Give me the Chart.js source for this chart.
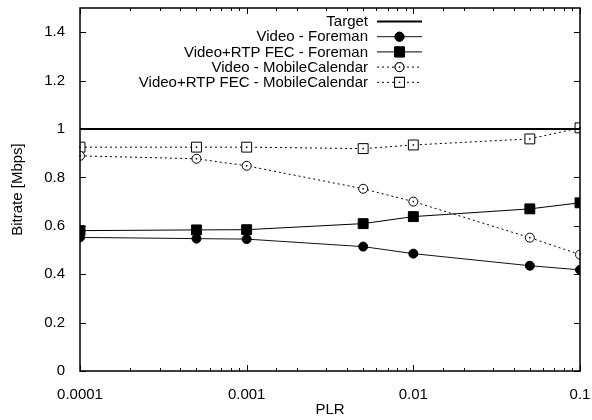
<!DOCTYPE html>
<html>
<head>
<meta charset="utf-8">
<script src="https://cdn.jsdelivr.net/npm/chart.js@4/dist/chart.umd.min.js"></script>
<style>
  html, body { margin: 0; padding: 0; background: #fff; }
  #wrap { width: 592px; height: 420px; }
</style>
</head>
<body>
<div id="wrap"><canvas id="chart" width="592" height="420"></canvas></div>
<script>
// values
const plr = [0.0001, 0.0005, 0.001, 0.005, 0.01, 0.05, 0.1];
const targetX = [0.0001, 0.1];
const targetY = [1, 1];
const videoForeman = [0.552, 0.547, 0.545, 0.514, 0.485, 0.435, 0.418];
const fecForeman = [0.580, 0.583, 0.584, 0.609, 0.638, 0.670, 0.695];
const videoMobile = [0.889, 0.877, 0.848, 0.753, 0.700, 0.551, 0.481];
const fecMobile = [0.925, 0.925, 0.925, 0.919, 0.934, 0.959, 1.005];
const yTicks = [0, 0.2, 0.4, 0.6, 0.8, 1, 1.2, 1.4];
const xLabels = [0.0001, 0.001, 0.01, 0.1];

const FONT = 'Liberation Sans, Arial, Helvetica, sans-serif';
const FSIZE = 15;

function pts(xs, ys) {
  return xs.map((x, i) => ({ x: x, y: ys[i] }));
}

const datasets = [
  { label: 'Target', data: pts(targetX, targetY), borderColor: '#000', borderWidth: 2,
    pointRadius: 0 },
  { label: 'Video - Foreman', data: pts(plr, videoForeman), borderColor: '#111', borderWidth: 1,
    pointStyle: 'circle', pointRadius: 4.5, pointBackgroundColor: '#000', pointBorderColor: '#000' },
  { label: 'Video+RTP FEC - Foreman', data: pts(plr, fecForeman), borderColor: '#000', borderWidth: 1,
    pointStyle: 'rect', pointRadius: 7, pointBackgroundColor: '#000', pointBorderColor: '#000' },
  { label: 'Video - MobileCalendar', data: pts(plr, videoMobile), borderColor: '#000', borderWidth: 1,
    borderDash: [2, 3], pointStyle: 'circle', pointRadius: 4.5, pointBackgroundColor: '#fff',
    pointBorderColor: '#000', pointBorderWidth: 1, openDot: true },
  { label: 'Video+RTP FEC - MobileCalendar', data: pts(plr, fecMobile), borderColor: '#000', borderWidth: 1,
    borderDash: [2, 3], pointStyle: 'rect', pointRadius: 7, pointBackgroundColor: '#fff',
    pointBorderColor: '#000', pointBorderWidth: 1, openDot: true }
];

// gnuplot-like frame, inward ticks, dots in the open markers and the legend
const gnuplotLook = {
  id: 'gnuplotLook',
  beforeDatasetsDraw(chart) {
    const ctx = chart.ctx;
    const a = chart.chartArea;
    const xs = chart.scales.x, ys = chart.scales.y;
    ctx.save();
    ctx.strokeStyle = '#000';
    ctx.lineWidth = 1;
    ctx.beginPath();
    xs.ticks.forEach(t => {
      const px = Math.round(xs.getPixelForValue(t.value)) + 0.5;
      const major = xLabels.indexOf(t.value) >= 0;
      const len = major ? 6 : 3;
      ctx.moveTo(px, a.bottom); ctx.lineTo(px, a.bottom - len);
      ctx.moveTo(px, a.top); ctx.lineTo(px, a.top + len);
    });
    ys.ticks.forEach(t => {
      const py = Math.round(ys.getPixelForValue(t.value)) + 0.5;
      ctx.moveTo(a.left, py); ctx.lineTo(a.left + 6, py);
      ctx.moveTo(a.right, py); ctx.lineTo(a.right - 6, py);
    });
    ctx.stroke();
    ctx.restore();
  },
  afterDatasetsDraw(chart) {
    const ctx = chart.ctx;
    const a = chart.chartArea;
    ctx.save();
    // frame
    ctx.strokeStyle = '#000';
    ctx.lineWidth = 1.5;
    ctx.strokeRect(a.left, a.top, a.right - a.left, a.bottom - a.top);
    // center dots for open markers
    chart.data.datasets.forEach((ds, i) => {
      if (!ds.openDot) return;
      chart.getDatasetMeta(i).data.forEach(el => {
        ctx.fillStyle = '#000';
        ctx.fillRect(el.x - 0.75, el.y - 0.75, 1.5, 1.5);
      });
    });
    // legend
    const textRight = 368, lineL = 377, lineR = 422;
    let y = a.top + 13;
    ctx.font = FSIZE + 'px ' + FONT;
    ctx.textAlign = 'right';
    ctx.textBaseline = 'middle';
    chart.data.datasets.forEach(ds => {
      ctx.fillStyle = '#000';
      ctx.fillText(ds.label, textRight, y + 1);
      ctx.strokeStyle = ds.borderColor;
      ctx.lineWidth = ds.borderWidth;
      ctx.setLineDash(ds.borderDash || []);
      ctx.beginPath();
      ctx.moveTo(lineL, y + 0.5); ctx.lineTo(lineR, y + 0.5);
      ctx.stroke();
      ctx.setLineDash([]);
      if (ds.pointRadius) {
        Chart.helpers.drawPoint(ctx, {
          pointStyle: ds.pointStyle, radius: ds.pointRadius, rotation: 0,
          borderWidth: ds.pointBorderWidth || 1
        }, (lineL + lineR) / 2, y + 0.5);
        ctx.fillStyle = ds.pointBackgroundColor;
        ctx.strokeStyle = ds.pointBorderColor;
        ctx.lineWidth = ds.pointBorderWidth || 1;
        ctx.fill();
        ctx.stroke();
        if (ds.openDot) {
          ctx.fillStyle = '#000';
          ctx.fillRect((lineL + lineR) / 2 - 0.75, y - 0.25, 1.5, 1.5);
        }
      }
      y += 15.2;
    });
    ctx.restore();
  }
};

new Chart(document.getElementById('chart'), {
  type: 'line',
  data: { datasets: datasets },
  options: {
    responsive: false,
    animation: false,
    layout: { padding: { top: 8, right: 12, left: 0, bottom: 0 } },
    plugins: { legend: { display: false }, tooltip: { enabled: false } },
    elements: { line: { tension: 0 } },
    scales: {
      x: {
        type: 'logarithmic',
        min: 0.0001, max: 0.1,
        grid: { display: false },
        border: { display: false },
        ticks: {
          autoSkip: false, maxRotation: 0, color: '#000', padding: 7,
          font: { family: FONT, size: FSIZE },
          callback: v => xLabels.indexOf(v) >= 0 ? String(v) : ''
        },
        title: { display: true, text: 'PLR', color: '#000', font: { family: FONT, size: FSIZE },
                 padding: { top: 2, bottom: 1 } },
        afterFit: s => { s.height = 49; s.paddingLeft = 0; s.paddingRight = 0; }
      },
      y: {
        min: 0, max: 1.5,
        grid: { display: false },
        border: { display: false },
        afterBuildTicks: s => { s.ticks = yTicks.map(v => ({ value: v })); },
        ticks: { color: '#000', padding: 7, font: { family: FONT, size: FSIZE },
                 callback: v => String(v) },
        title: { display: true, text: 'Bitrate [Mbps]', color: '#000', font: { family: FONT, size: FSIZE },
                 padding: { top: 9, bottom: 4 } },
        afterFit: s => { s.width = 80; s.paddingTop = 0; s.paddingBottom = 0; }
      }
    }
  },
  plugins: [gnuplotLook]
});
</script>
</body>
</html>
